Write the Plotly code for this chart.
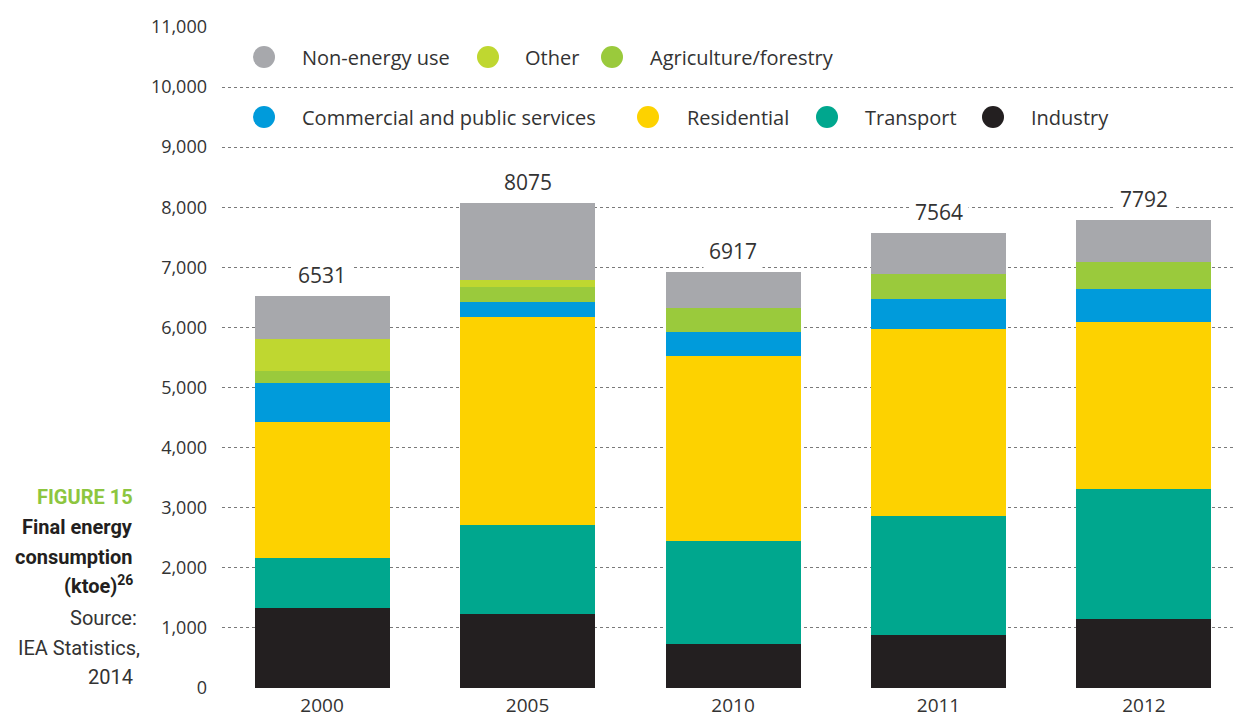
import plotly.graph_objects as go

years = ["2000", "2005", "2010", "2011", "2012"]
totals = [6531, 8075, 6917, 7564, 7792]

industry = [1331, 1231, 732, 882, 1148]
transport = [832, 1481, 1714, 1980, 2163]
residential = [2263, 3461, 3078, 3111, 2779]
commercial = [649, 250, 399, 500, 549]
agriculture = [200, 249, 400, 416, 449]
other = [532, 117, 0, 0, 0]
non_energy = [724, 1286, 594, 675, 704]

series = [
    ("Industry", industry, "#231F20"),
    ("Transport", transport, "#00A78E"),
    ("Residential", residential, "#FDD200"),
    ("Commercial and public services", commercial, "#009BDB"),
    ("Agriculture/forestry", agriculture, "#9ACA3C"),
    ("Other", other, "#BFD730"),
    ("Non-energy use", non_energy, "#A7A8AC"),
]

FONT = "Open Sans, DejaVu Sans, sans-serif"
NARROW = "Liberation Sans Narrow, Roboto, sans-serif"
TXT = "#333333"

fig = go.Figure()
for name, vals, color in series:
    fig.add_trace(go.Bar(
        x=years, y=vals, name=name, width=0.657,
        marker=dict(color=color, line=dict(width=0)),
        showlegend=False, hoverinfo="name+y",
    ))

# totals above bars
for i, t in enumerate(totals):
    fig.add_annotation(
        x=i, y=t, text=str(t), showarrow=False, yanchor="bottom", yshift=1,
        font=dict(family=FONT, size=21, color=TXT),
        bgcolor="white", borderpad=5,
    )

# hand-placed legend (two rows)
legend_rows = [
    (57, [("Non-energy use", "#A7A8AC", 264, 299),
          ("Other", "#BFD730", 488, 522),
          ("Agriculture/forestry", "#9ACA3C", 612, 647)]),
    (117, [("Commercial and public services", "#009BDB", 264, 299),
           ("Residential", "#FDD200", 648, 684),
           ("Transport", "#00A78E", 827, 862),
           ("Industry", "#231F20", 993, 1028)]),
]
W, H = 1235, 717
for ypx, items in legend_rows:
    for label, color, cx, tx in items:
        r = 11
        fig.add_shape(
            type="circle", xref="paper", yref="paper",
            x0=(cx - r - 222) / (W - 222), x1=(cx + r - 222) / (W - 222),
            y0=(688 - ypx - r) / 661, y1=(688 - ypx + r) / 661,
            fillcolor=color, line=dict(width=0), layer="above",
        )
        fig.add_annotation(
            xref="paper", yref="paper",
            x=(tx - 222) / (W - 222), y=(688 - ypx) / 661,
            text=label, showarrow=False, xanchor="left", yanchor="middle",
            font=dict(family=FONT, size=20, color=TXT),
            bgcolor="white", borderpad=2,
        )

# caption on the left
caption = [
    ("<b>FIGURE 15</b>", "#8DC63F", 497, 135),
    ("<b>Final energy</b>", "#231F20", 527, 135),
    ("<b>consumption</b>", "#231F20", 557, 135),
    ("<b>(ktoe)<sup>26</sup></b>", "#231F20", 585, 135),
    ("Source:", TXT, 618, 139),
    ("IEA Statistics,", TXT, 648, 142),
    ("2014", TXT, 677, 135),
]
for text, color, ypx, xr in caption:
    fig.add_annotation(
        xref="paper", yref="paper",
        x=(xr - 222) / (W - 222), y=(688 - ypx) / 661,
        text=text, showarrow=False, xanchor="right", yanchor="middle",
        font=dict(family=NARROW, size=20, color=color),
    )

fig.update_layout(
    width=W, height=H,
    margin=dict(l=222, r=0, t=27, b=29),
    plot_bgcolor="white", paper_bgcolor="white",
    barmode="stack", bargap=0.34,
    font=dict(family=FONT, color=TXT),
    xaxis=dict(
        type="category", range=[-0.487, 4.443], showgrid=False,
        showline=False, ticks="",
        tickfont=dict(size=19, color=TXT), ticklabelstandoff=4,
    ),
    yaxis=dict(
        range=[0, 11000], dtick=1000, tickformat=",",
        showgrid=True, gridcolor="#7a7a7a", griddash="dot", gridwidth=1,
        zeroline=False, showline=False, ticks="",
        tickfont=dict(size=18, color=TXT), ticklabelstandoff=14,
    ),
)

fig.write_html("out.html", config={"displayModeBar": False},
               post_script="document.body.style.margin='0';")
